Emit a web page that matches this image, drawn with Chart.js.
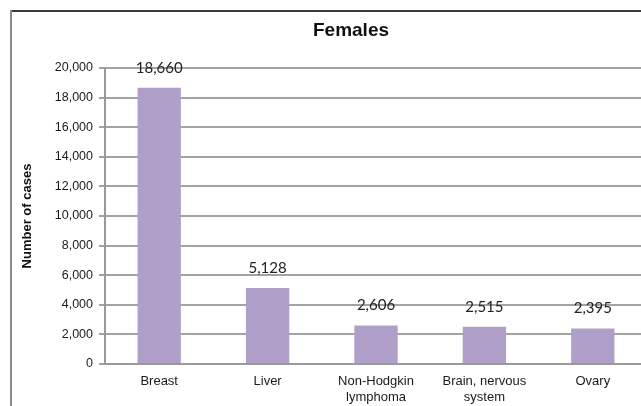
<!DOCTYPE html>
<html>
<head>
<meta charset="utf-8">
<script src="https://cdn.jsdelivr.net/npm/chart.js@4.4.1/dist/chart.umd.min.js"></script>
<style>
  html, body { margin: 0; padding: 0; background: #fff; overflow: hidden; width: 641px; height: 406px; }
  canvas { display: block; }
</style>
</head>
<body>
<canvas id="c" width="647" height="406"></canvas>
<script>
const chartTitle = "Females";
const yAxisTitle = "Number of cases";
const categories = [["Breast"], ["Liver"], ["Non-Hodgkin", "lymphoma"], ["Brain, nervous", "system"], ["Ovary"]];
const cases = [18660, 5128, 2606, 2515, 2395];
const yTicks = [0, 2000, 4000, 6000, 8000, 10000, 12000, 14000, 16000, 18000, 20000];

const fmt = v => v.toLocaleString('en-US');

const framePlugin = {
  id: 'frame',
  beforeDraw(chart) {
    const ctx = chart.ctx;
    ctx.save();
    ctx.fillStyle = '#fff';
    ctx.fillRect(0, 0, chart.width, chart.height);
    ctx.lineWidth = 2;
    ctx.strokeStyle = '#3a3a3a';
    ctx.beginPath();
    ctx.moveTo(10, 11);
    ctx.lineTo(chart.width, 11);
    ctx.stroke();
    ctx.strokeStyle = '#8a8a8a';
    ctx.beginPath();
    ctx.moveTo(11, 10);
    ctx.lineTo(11, chart.height);
    ctx.stroke();
    ctx.font = 'bold 19px "Liberation Sans", Arial, sans-serif';
    ctx.fillStyle = '#111';
    ctx.textAlign = 'center';
    ctx.textBaseline = 'middle';
    ctx.fillText(chartTitle, 351, 31);
    ctx.restore();
  }
};

const valueLabels = {
  id: 'valueLabels',
  afterDatasetsDraw(chart) {
    const ctx = chart.ctx;
    const meta = chart.getDatasetMeta(0);
    ctx.save();
    ctx.font = '15px Lato, "Open Sans", sans-serif';
    ctx.fillStyle = '#222';
    ctx.textAlign = 'center';
    ctx.textBaseline = 'middle';
    meta.data.forEach((bar, i) => {
      ctx.fillText(fmt(cases[i]), bar.x, bar.y - 20);
    });
    ctx.restore();
  }
};

new Chart(document.getElementById('c'), {
  type: 'bar',
  data: {
    labels: categories,
    datasets: [{
      data: cases,
      backgroundColor: '#b09fc9',
      borderWidth: 0,
      categoryPercentage: 1,
      barPercentage: 0.4
    }]
  },
  options: {
    responsive: false,
    animation: false,
    devicePixelRatio: 1,
    layout: { padding: { left: 12, top: 68, right: 0, bottom: 0 } },
    plugins: {
      legend: { display: false },
      title: { display: false },
      tooltip: { enabled: false }
    },
    scales: {
      x: {
        grid: { display: false, drawTicks: false },
        border: { display: true, color: '#9a9a9a', width: 2 },
        ticks: {
          color: '#1a1a1a',
          font: { family: '"Liberation Sans", Arial, sans-serif', size: 13 },
          padding: 10,
          maxRotation: 0,
          autoSkip: false
        },
        afterFit(scale) { scale.height = 42; }
      },
      y: {
        min: 0,
        max: 20000,
        afterBuildTicks(scale) { scale.ticks = yTicks.map(v => ({ value: v })); },
        grid: { color: '#a3a3a3', lineWidth: 2, tickLength: 6, drawTicks: true },
        border: { display: true, color: '#9a9a9a', width: 2 },
        ticks: {
          color: '#1a1a1a',
          font: { family: '"Liberation Sans", Arial, sans-serif', size: 12.5 },
          padding: 6,
          callback: v => fmt(v)
        },
        title: {
          display: true,
          text: yAxisTitle,
          color: '#111',
          font: { family: '"Liberation Sans", Arial, sans-serif', size: 13, weight: 'bold' },
          padding: { top: 8, bottom: 0 }
        },
        afterFit(scale) { scale.width = 93; }
      }
    }
  },
  plugins: [framePlugin, valueLabels]
});
</script>
</body>
</html>
